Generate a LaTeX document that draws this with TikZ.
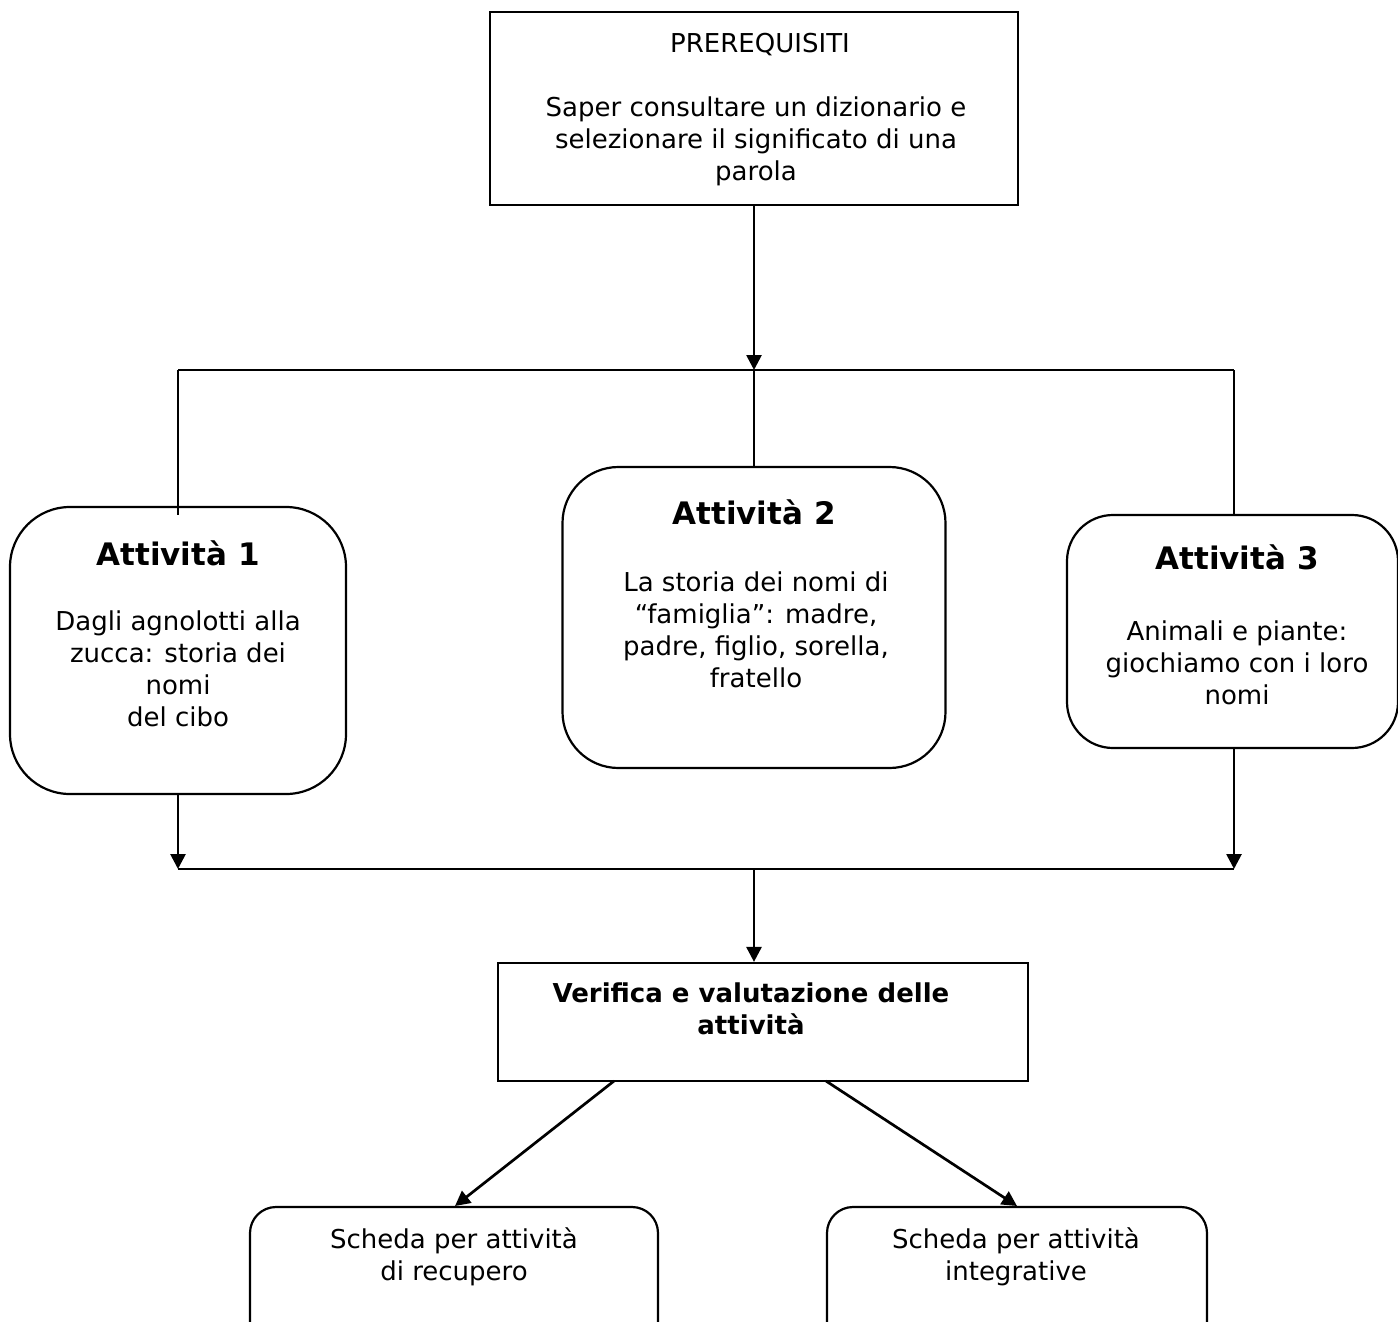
\documentclass[tikz,border=0pt]{standalone}
\usepackage{fontspec}
\setmainfont{DejaVu Sans}
\usetikzlibrary{arrows.meta}
\tikzset{
  box/.style={draw, line width=1.1pt, rectangle, inner sep=0pt},
  rbox/.style={box, rounded corners=#1},
  body/.style={font=\fontsize{13}{16}\selectfont, align=center, inner sep=0pt},
  ttl/.style={font=\fontsize{15.5}{18}\selectfont\bfseries, inner sep=0pt},
  bbody/.style={font=\fontsize{13}{16}\selectfont\bfseries, align=center, inner sep=0pt},
  ln/.style={line width=1pt},
  arr/.style={line width=1.35pt, -{Triangle[length=7.5pt,width=7.5pt]}}
}
\begin{document}
\begin{tikzpicture}[x=0.5pt,y=-0.5pt]
\useasboundingbox (0,0) rectangle (1398,1322);
\clip (0,0) rectangle (1398,1322);
% boxes
\node[box, minimum width=264pt, minimum height=96.5pt] (pre) at (754,108.5) {};
\node[rbox=30pt, minimum width=168pt, minimum height=143.5pt] (b1) at (178,650.5) {};
\node[rbox=28pt, minimum width=191.5pt, minimum height=150.5pt] (b2) at (754,617.5) {};
\node[rbox=23pt, minimum width=165.5pt, minimum height=116.5pt] (b3) at (1232.5,631.5) {};
\node[box, minimum width=265pt, minimum height=59pt] (b4) at (763,1022) {};
\node[rbox=13pt, minimum width=204pt, minimum height=75pt] (s1) at (454,1282) {};
\node[rbox=13pt, minimum width=190pt, minimum height=75pt] (s2) at (1017,1282) {};
% texts
\node[body] (pret) at (760,45) {PREREQUISITI};
\node[body] (pred) at (756,141) {Saper consultare un dizionario e\\selezionare il significato di una\\parola};
\node[ttl] (t1) at (178,553) {Attività 1};
\node[body] (d1) at (178,668.5) {Dagli agnolotti alla\\zucca: storia dei\\nomi\\del cibo};
\node[ttl] (t2) at (754,512) {Attività 2};
\node[body] (d2) at (756,630) {La storia dei nomi di\\“famiglia”: madre,\\padre, figlio, sorella,\\fratello};
\node[ttl] (t3) at (1237,557) {Attività 3};
\node[body] (d3) at (1237,663) {Animali e piante:\\giochiamo con i loro\\nomi};
\node[bbody] (d4) at (751,1009) {Verifica e valutazione delle\\attività};
\node[body] (ds1) at (454,1257) {Scheda per attività\\di recupero};
\node[body] (ds2) at (1016,1257) {Scheda per attività\\integrative};
% junctions
\coordinate (jt) at (754,370);
\coordinate (tl) at (178,370);
\coordinate (tr) at (1234,370);
\coordinate (t1end) at (178,515);
\coordinate (bl) at (178,869);
\coordinate (br) at (1234,869);
\coordinate (bm) at (754,869);
\coordinate (o1) at (614,1081);
\coordinate (o2) at (826,1081);
\coordinate (e1) at (455,1206);
\coordinate (e2) at (1017,1206);
% connectors
\draw[arr] (pre.south) -- (jt);
\draw[ln] (tl) -- (tr);
\draw[ln] (tl) -- (t1end);
\draw[ln] (jt) -- (jt |- b2.north);
\draw[ln] (tr) -- (tr |- b3.north);
\draw[arr] (b1.south) -- (bl);
\draw[arr] (tr |- b3.south) -- (br);
\draw[ln] (bl) -- (br);
\draw[arr] (bm) -- (bm |- b4.north);
\draw[arr] (o1) -- (e1);
\draw[arr] (o2) -- (e2);
\end{tikzpicture}
\end{document}
